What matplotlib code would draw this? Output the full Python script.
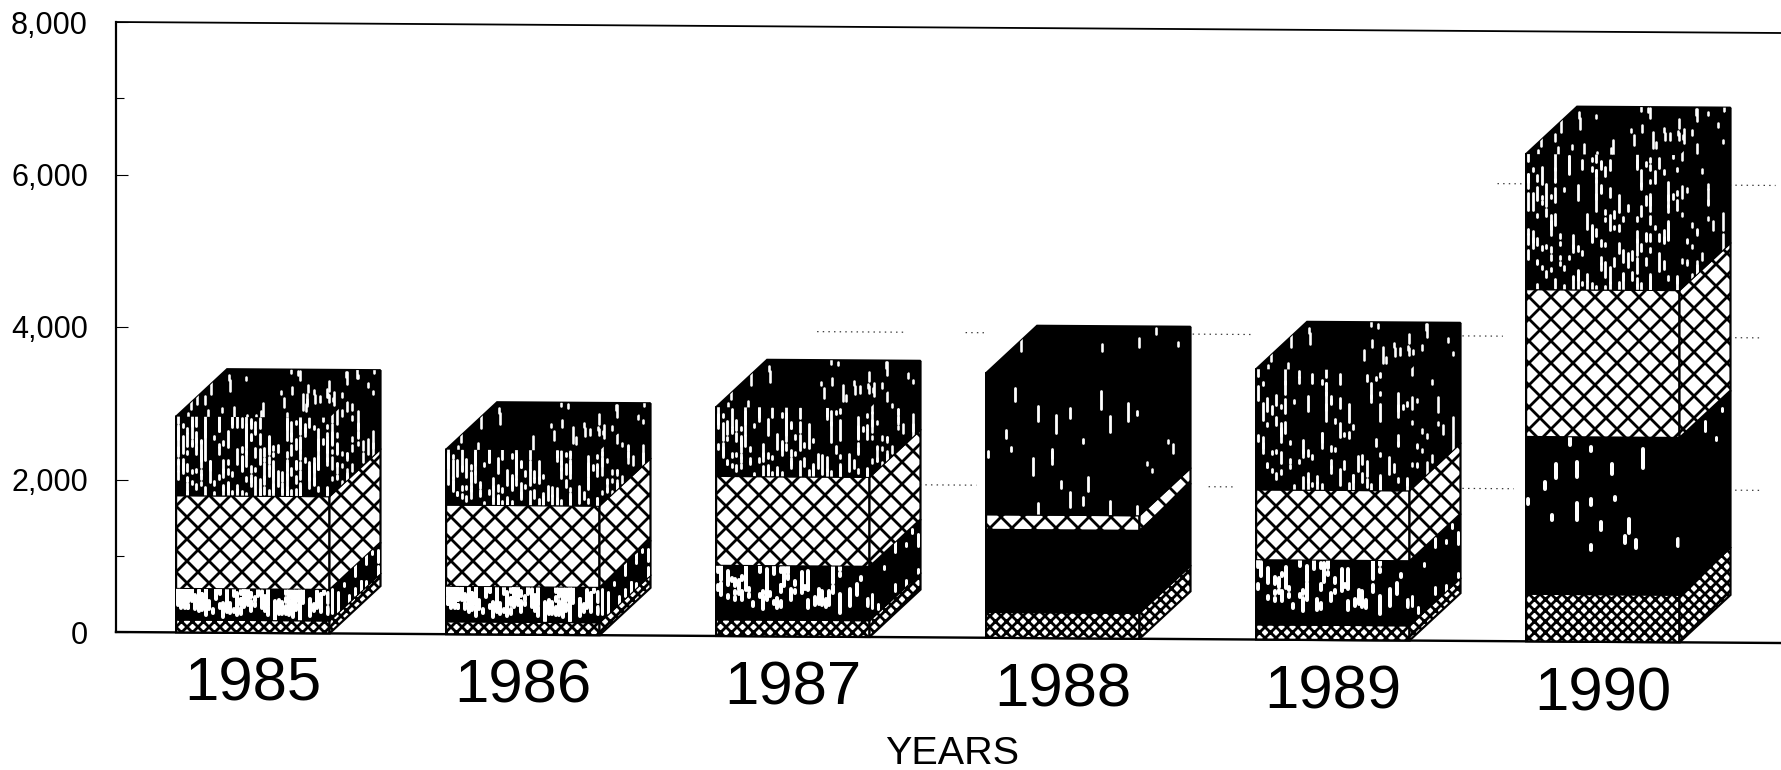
import numpy as np
import matplotlib
matplotlib.use("Agg")
import matplotlib.pyplot as plt
from matplotlib.patches import Polygon
from matplotlib.collections import LineCollection
from matplotlib.transforms import Affine2D

years = ["1985", "1986", "1987", "1988", "1989", "1990"]
seg_base = [170, 170, 220, 340, 200, 625]
seg_dark = [400, 450, 700, 1075, 840, 2055]
seg_cross = [1230, 1080, 1180, 205, 930, 1940]
seg_top = [1030, 720, 900, 1850, 1575, 1770]
y_major = [0, 2000, 4000, 6000, 8000]
y_minor = [1000, 7000]
y_labels = ["0", "2,000", "4,000", "6,000", "8,000"]
top_specks = [210, 130, 120, 22, 110, 170]
top_side_specks = [45, 30, 30, 5, 22, 28]
dark_specks = [130, 130, 70, 0, 60, 18]
grid_levels = {
    2000: [(2.47, 2.68), (3.54, 3.64), (4.48, 4.67), (5.49, 5.58)],
    4000: [(2.09, 2.41), (2.64, 2.72), (3.46, 3.70), (4.48, 4.63), (5.49, 5.58)],
    6000: [(4.61, 4.70), (5.47, 5.64)],
}

DPI = 66                # sets the hatch cell size (matplotlib hatches are per inch)
P = 72 / DPI            # points per output pixel
W, H = 1781, 770
PX_X = 270.0            # pixels per category
PX_Y = 76.25 / 1000     # pixels per value unit
BAR_W = 153.4 / PX_X
DEPTH_X = 51.0 / PX_X
DEPTH_Y = 626
SHEAR = 23.4
XMIN = (116 - 252.8) / PX_X
XMAX = (1781 - 252.8) / PX_X

plt.rcParams["font.family"] = ["Liberation Sans", "DejaVu Sans"]
plt.rcParams["hatch.linewidth"] = 2.8 * P

fig = plt.figure(figsize=(W / DPI, H / DPI), dpi=DPI, facecolor="white")
ax = fig.add_axes([116 / W, 1 - 632 / H, 1 - 116 / W, 610 / H])
ax.set_xlim(XMIN, XMAX)
ax.set_ylim(0, 8000)

shear = Affine2D.from_values(1, -SHEAR, 0, 1, 0, SHEAR * XMIN) + ax.transData


def poly(points, face, hatch=None, lw=2.2, z=3):
    p = Polygon(points, closed=True, facecolor=face, edgecolor="black", hatch=hatch,
                linewidth=lw * P, transform=shear, clip_on=False, zorder=z)
    ax.add_patch(p)
    return p


def frac_hash(n, a, b):
    return (np.sin(n * a) * b) % 1


def specks(count, mapper, clip, lw, seed_offset, columns, z=4):
    """Deterministic scatter of white vertical scan flecks, loosely in columns."""
    if count <= 0:
        return
    n = np.arange(1, count + 1) + seed_offset
    u = np.floor(frac_hash(n, 12.9898, 43758.5453) * columns) / columns + 0.5 / columns
    v = frac_hash(n, 78.233, 24634.6345)
    ln = 3 + 16 * frac_hash(n, 37.719, 9182.731) ** 2
    xa, ya = mapper(u, v)
    half = ln / 2 / PX_Y
    segs = [[(a, b - h), (a, b + h)] for a, b, h in zip(xa, ya, half)]
    lc = LineCollection(segs, colors="white", linewidths=lw * P,
                        transform=shear, zorder=z, capstyle="round")
    ax.add_collection(lc, autolim=False)
    lc.set_clip_path(clip)


for i in range(len(years)):
    x0 = i - BAR_W / 2
    x1 = i + BAR_W / 2
    levels = [0.0, seg_base[i], seg_base[i] + seg_dark[i],
              seg_base[i] + seg_dark[i] + seg_cross[i],
              seg_base[i] + seg_dark[i] + seg_cross[i] + seg_top[i]]
    styles = [("white", "xx"), ("black", None), ("white", "x"), ("black", None)]
    for k, (face, hatch) in enumerate(styles):
        y0, y1 = levels[k], levels[k + 1]
        front = [(x0, y0), (x1, y0), (x1, y1), (x0, y1)]
        side = [(x1, y0), (x1 + DEPTH_X, y0 + DEPTH_Y), (x1 + DEPTH_X, y1 + DEPTH_Y), (x1, y1)]
        fp = poly(front, face, hatch)
        sp = poly(side, face, hatch)

        def fm(u, v, y0=y0, y1=y1):
            return x0 + u * BAR_W, y0 + v * (y1 - y0)

        def sm(u, v, y0=y0, y1=y1):
            return x1 + u * DEPTH_X, y0 + v * (y1 - y0) + u * DEPTH_Y

        if k == 1:
            # keep a solid black band just above the dotted base of the bar
            def fm2(u, v, y0=y0, y1=y1):
                return x0 + u * BAR_W, y0 + (0.28 + 0.72 * v) * (y1 - y0)
            specks(dark_specks[i], fm2, fp, 4.0, 17, 44)
            specks(dark_specks[i] // 6, sm, sp, 3.0, 91, 9)
        if k == 3:
            specks(top_specks[i], fm, fp, 2.8, 5, 34)
            specks(top_side_specks[i], sm, sp, 2.6, 43, 10)
            top = [(x0, y1), (x0 + DEPTH_X, y1 + DEPTH_Y), (x1 + DEPTH_X, y1 + DEPTH_Y), (x1, y1)]
            tp = poly(top, "black")

            def tm(u, v, y1=y1):
                return x0 + v * DEPTH_X + u * BAR_W, y1 + v * DEPTH_Y
            specks(top_specks[i] // 5, tm, tp, 2.6, 131, 34)

# axis frame lines (the scanned page sits slightly askew)
ax.plot([XMIN, XMAX], [0, 0], color="black", lw=2.4 * P, transform=shear, clip_on=False, zorder=2)
ax.plot([XMIN, XMAX], [8000, 8000], color="black", lw=1.8 * P, transform=shear, clip_on=False, zorder=2)

# broken remains of the dotted grid
for level, parts in grid_levels.items():
    for a, c in parts:
        ax.plot([a, c], [level, level], color="#333333", lw=1.2 * P, ls=(0, (1.2, 3.5)),
                transform=shear, clip_on=False, zorder=1)

for s in ("top", "right", "bottom"):
    ax.spines[s].set_visible(False)
ax.spines["left"].set_linewidth(2.2 * P)

ax.set_yticks(y_major)
ax.set_yticklabels(y_labels, fontsize=30.5 * P)
ax.set_yticks(y_minor, minor=True)
ax.tick_params(axis="y", which="major", direction="in", length=12 * P, width=1.1 * P, pad=28 * P)
ax.tick_params(axis="y", which="minor", direction="in", length=8 * P, width=1.1 * P)

ax.set_xticks(range(len(years)))
ax.set_xticklabels(years, fontsize=61.8 * P)
ax.tick_params(axis="x", length=0)
for i, t in enumerate(ax.xaxis.get_major_ticks()):
    t.set_pad((23.5 + SHEAR * (i + 0.5) * PX_Y * 1.1) * P)

ax.set_xlabel("YEARS", fontsize=39.5 * P, labelpad=13 * P, x=0.502)
fig.savefig("out.png", dpi=DPI, facecolor="white")
